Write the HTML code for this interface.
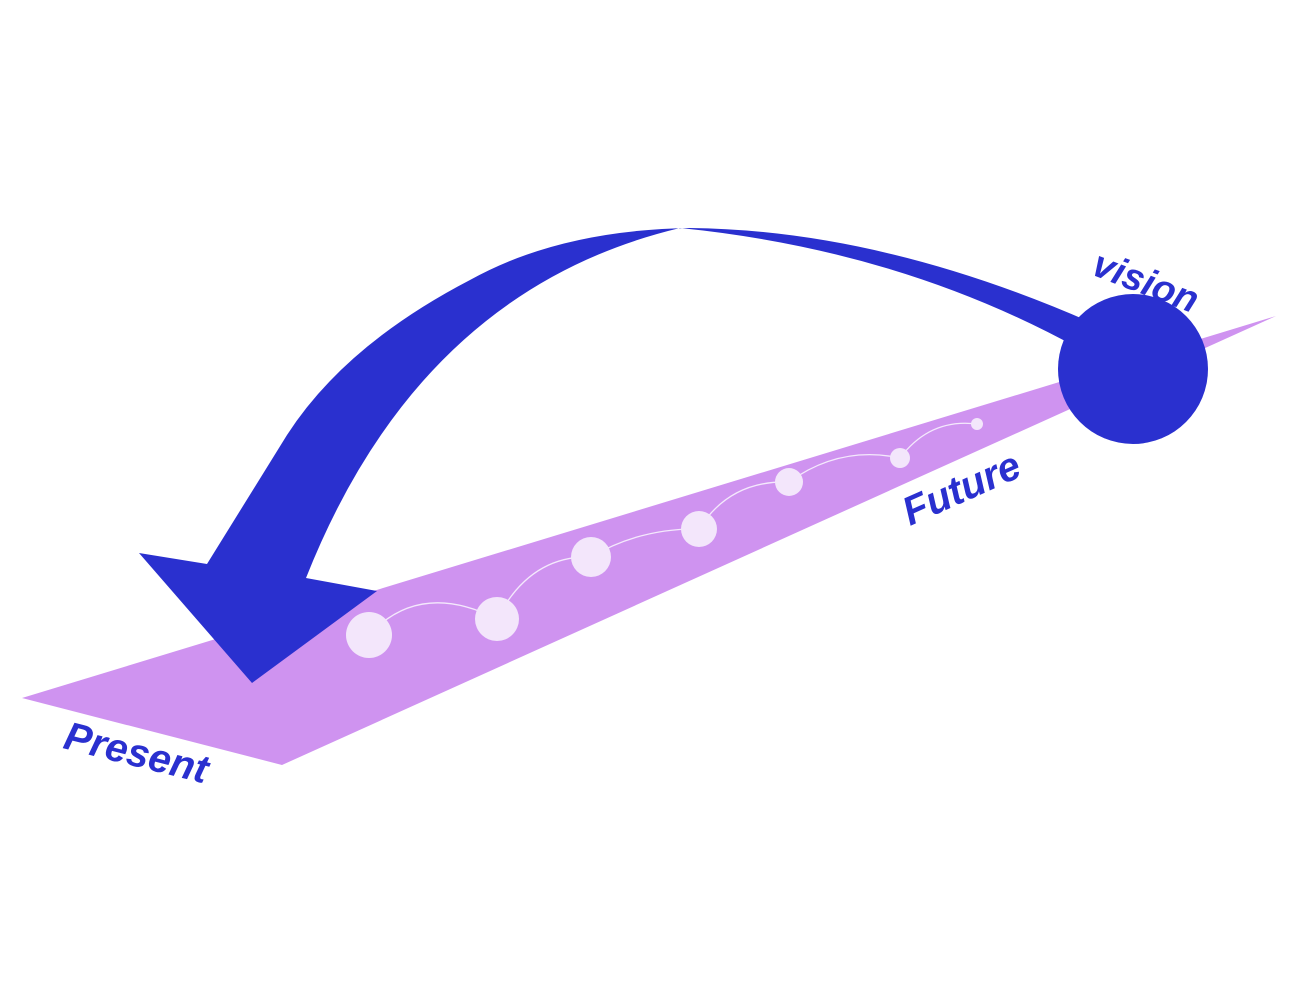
<!DOCTYPE html>
<html><head><meta charset="utf-8"><style>html,body{margin:0;padding:0;background:#fff}svg{display:block}</style></head>
<body>
<svg width="1296" height="981" viewBox="0 0 1296 981" xmlns="http://www.w3.org/2000/svg">
<polygon points="22,698 1276,316 282,765" fill="#cf93f0"/>
<path d="M 1090,322 Q 880,230 690,228 Q 560,230 470,280 Q 345,345 287,435 L 207,564 L 139,553 L 252,683 L 377,591 L 306,578 Q 420,290 680,228 Q 900,250 1078,348 Z" fill="#2a30cf"/>
<circle cx="1133" cy="369" r="75" fill="#2a30cf"/>
<g fill="none" stroke="#f4e9fc" stroke-width="1.3">
<path d="M 369,635 Q 420,580 497,619"/>
<path d="M 497,619 Q 530,555 591,557"/>
<path d="M 591,557 Q 640,528 699,529"/>
<path d="M 699,529 Q 730,480 789,482"/>
<path d="M 789,482 Q 840,445 900,458"/>
<path d="M 900,458 Q 930,418 977,424"/>
</g>
<g fill="#f3e6fb">
<circle cx="369" cy="635" r="23"/>
<circle cx="497" cy="619" r="22"/>
<circle cx="591" cy="557" r="20"/>
<circle cx="699" cy="529" r="18"/>
<circle cx="789" cy="482" r="14"/>
<circle cx="900" cy="458" r="10"/>
<circle cx="977" cy="424" r="6"/>
</g>
<g font-family="Liberation Sans, sans-serif" font-weight="bold" font-style="italic" fill="#2a30cf" font-size="40">
<text transform="translate(62,748) rotate(14)">Present</text>
<text transform="translate(910,526) rotate(-24)">Future</text>
<text transform="translate(1090,274) rotate(21)" font-size="38">vision</text>
</g>
</svg>
</body></html>
